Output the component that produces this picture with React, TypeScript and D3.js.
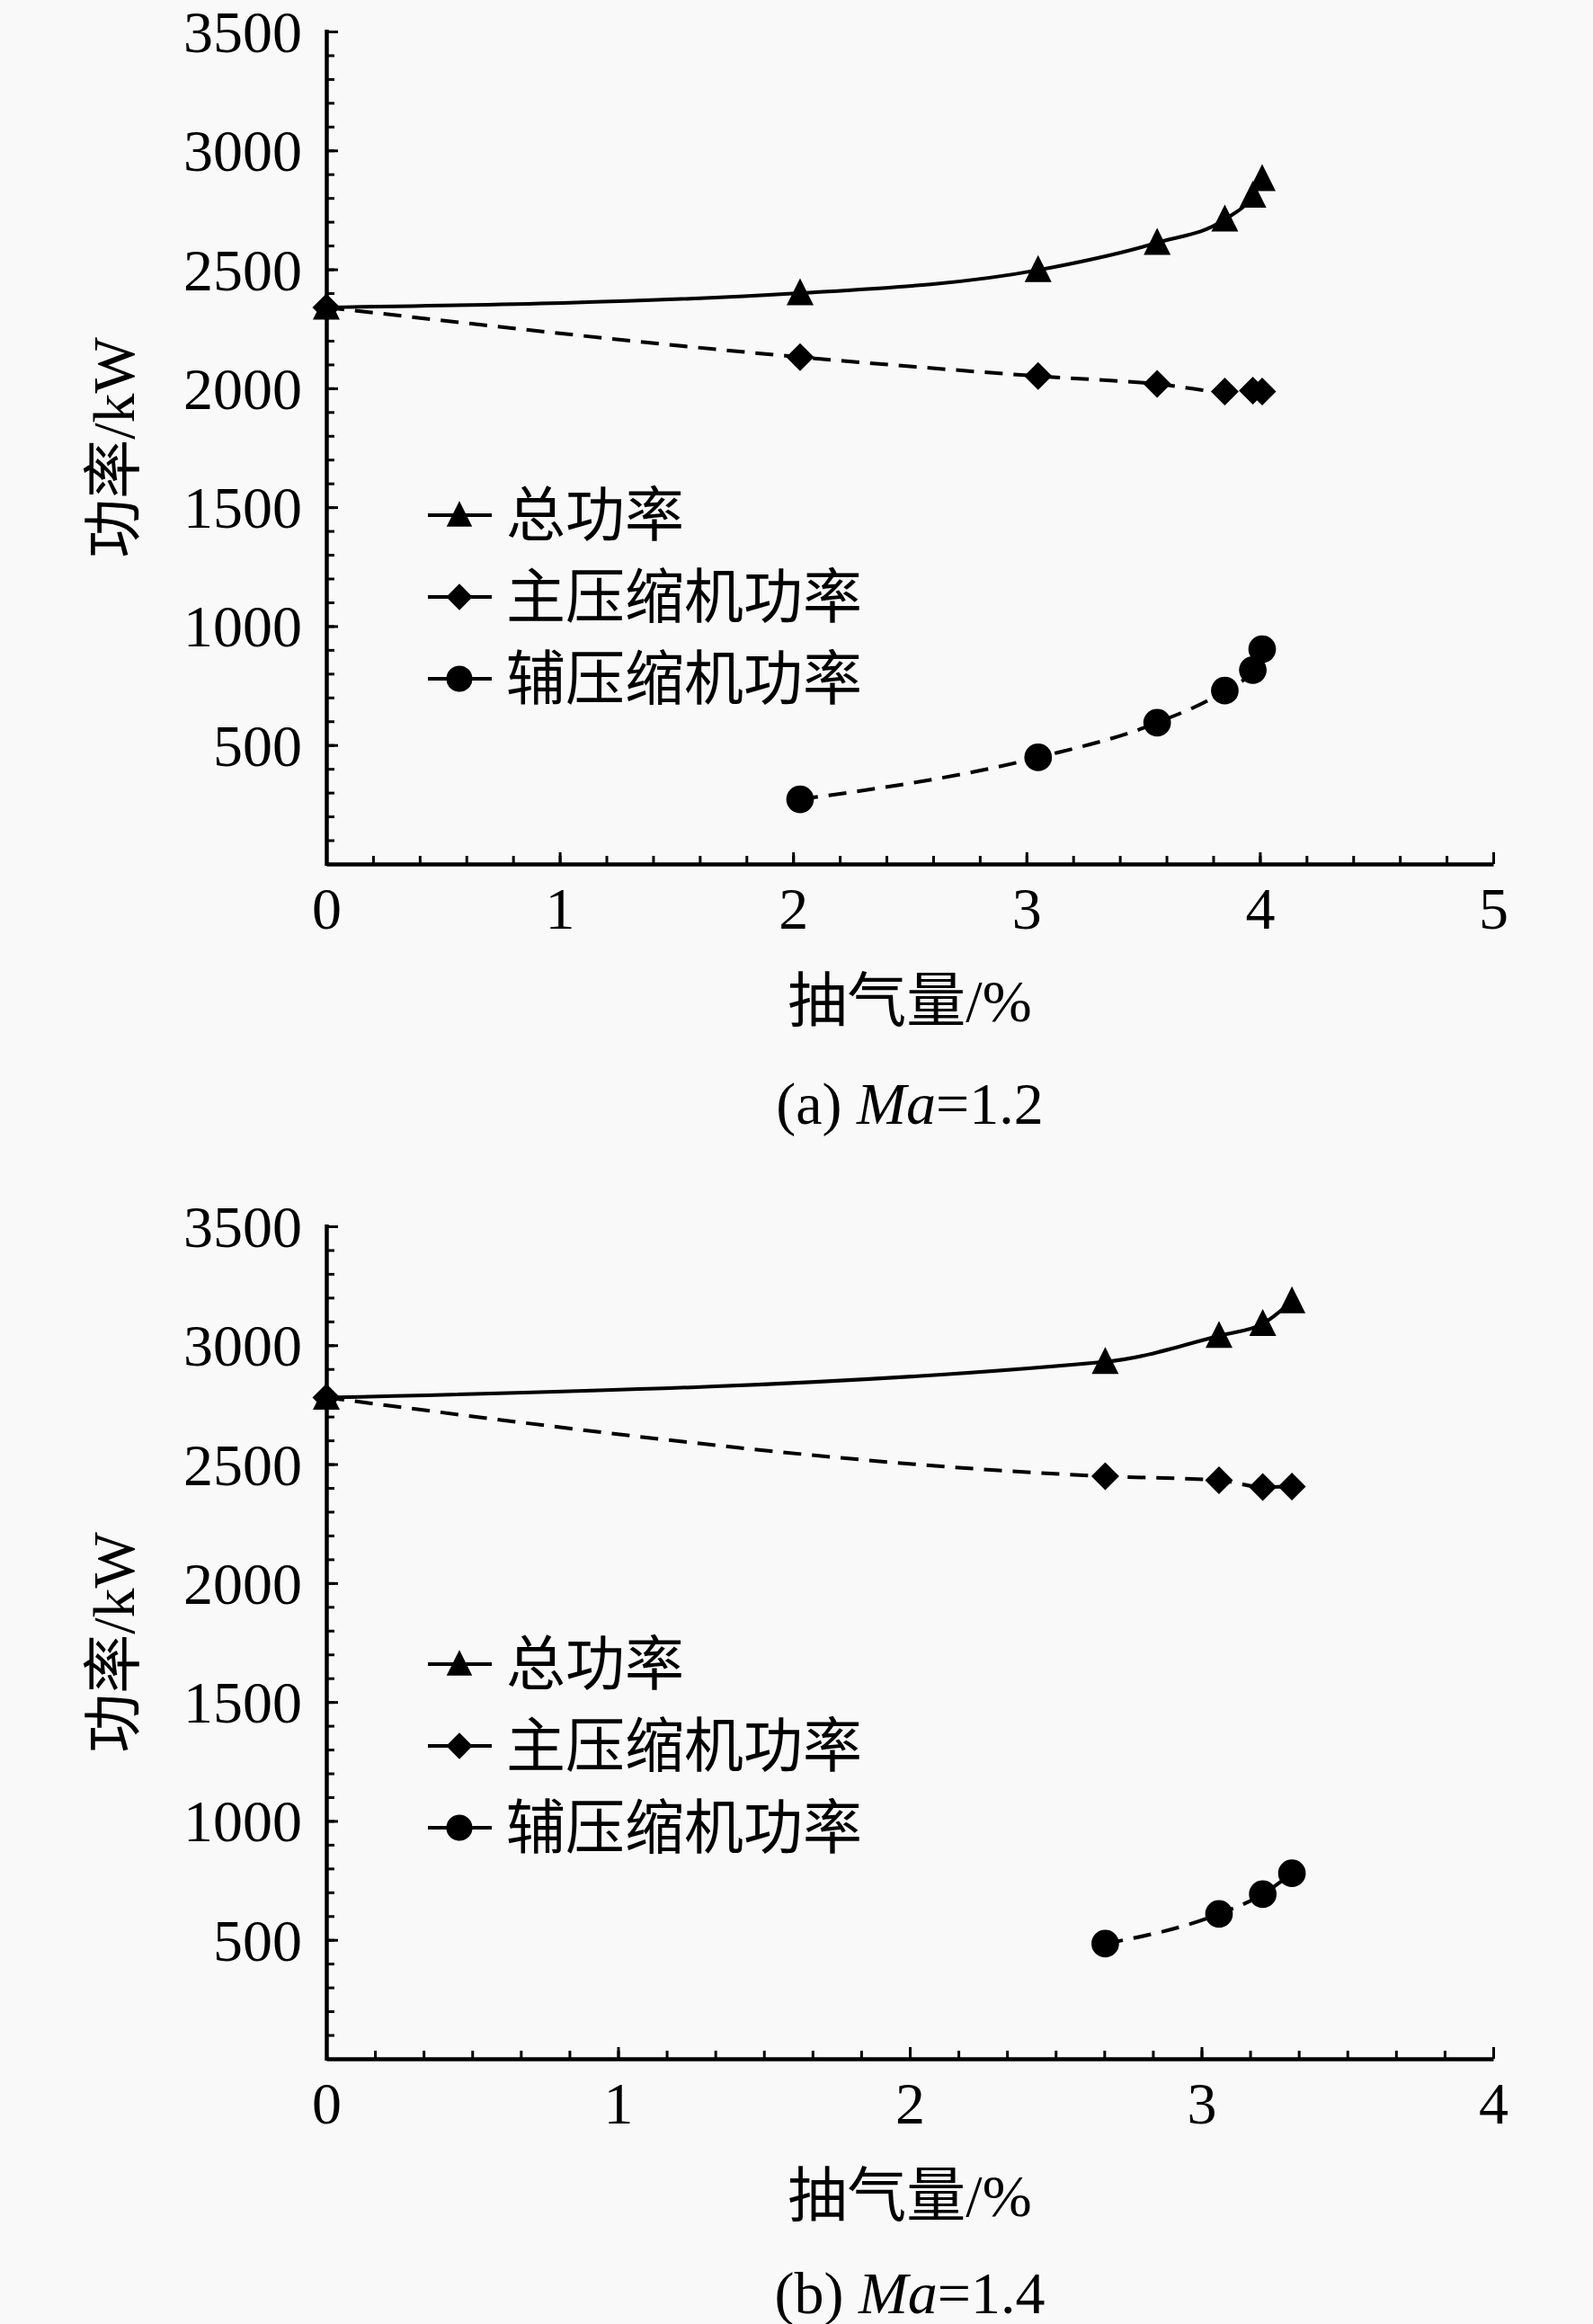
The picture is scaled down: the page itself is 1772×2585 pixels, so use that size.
import React, {useEffect, useRef} from 'react';
import * as d3 from 'd3';

// (a) Ma=1.2
const bleedA = [0, 2.03, 3.05, 3.56, 3.85, 3.97, 4.01];
const totalA = [2340, 2400, 2497, 2612, 2710, 2810, 2880];
const mainA = [2340, 2131, 2051, 2018, 1986, 1990, 1986];
const auxBleedA = [2.03, 3.05, 3.56, 3.85, 3.97, 4.01];
const auxA = [272, 448, 594, 729, 815, 903];

// (b) Ma=1.4
const bleedB = [0, 2.67, 3.06, 3.21, 3.31];
const totalB = [2780, 2930, 3040, 3090, 3185];
const mainB = [2780, 2449, 2432, 2404, 2406];
const auxBleedB = [2.67, 3.06, 3.21, 3.31];
const auxB = [484, 609, 692, 780];

const seriesNames = ['总功率', '主压缩机功率', '辅压缩机功率'];
const yTicks = [500, 1000, 1500, 2000, 2500, 3000, 3500];
const xTicksA = [0, 1, 2, 3, 4, 5];
const xTicksB = [0, 1, 2, 3, 4];
const xTitle = '抽气量/%';
const yTitle = '功率/kW';
const captionA = ['(a) ', 'Ma', '=1.2'];
const captionB = ['(b) ', 'Ma', '=1.4'];

const W = 1772;
const H = 2585;
const LATIN = '"Liberation Serif", "Times New Roman", "Noto Sans CJK SC", serif';
const FS = 66;

const panels = [
    {
        bleed: bleedA, total: totalA, main: mainA, auxBleed: auxBleedA, aux: auxA,
        xTicks: xTicksA, minorPerUnit: 5, caption: captionA,
        bottom: 961, top: 35, legendTop: 573, captionY: 1227,
    },
    {
        bleed: bleedB, total: totalB, main: mainB, auxBleed: auxBleedB, aux: auxB,
        xTicks: xTicksB, minorPerUnit: 6, caption: captionB,
        bottom: 2290, top: 1364, legendTop: 1851, captionY: 2550,
    },
];

// triangle as tall as it is wide (size = base * height)
const symbolTallTriangle = {
    draw(ctx, size) {
        const s = Math.sqrt(size);
        ctx.moveTo(0, -s * 0.55);
        ctx.lineTo(s / 2, s * 0.45);
        ctx.lineTo(-s / 2, s * 0.45);
        ctx.closePath();
    },
};

const App = () => {
    const svgRef = useRef(null);

    useEffect(() => {
        const svg = d3.select(svgRef.current);
        svg.selectAll('*').remove();
        svg.append('rect').attr('width', W).attr('height', H).attr('fill', '#f9f9f9');

        const left = 363;
        const right = 1661;

        panels.forEach((p) => {
            const g = svg.append('g');
            const xMax = p.xTicks[p.xTicks.length - 1];
            const x = d3.scaleLinear().domain([0, xMax]).range([left, right]);
            const y = d3.scaleLinear().domain([0, 3500]).range([p.bottom, p.top]);

            // minor ticks
            const xMinor = d3.range(0, xMax * p.minorPerUnit + 1).map((i) => i / p.minorPerUnit);
            const gxm = g.append('g')
                .attr('transform', `translate(0,${p.bottom})`)
                .call(d3.axisBottom(x).tickValues(xMinor).tickSizeInner(-9).tickSizeOuter(0).tickFormat(() => ''));
            gxm.select('.domain').remove();
            gxm.selectAll('line').attr('stroke', '#000').attr('stroke-width', 3);

            const gym = g.append('g')
                .attr('transform', `translate(${left},0)`)
                .call(d3.axisLeft(y).tickValues(d3.range(100, 3600, 100)).tickSizeInner(-9).tickSizeOuter(0).tickFormat(() => ''));
            gym.select('.domain').remove();
            gym.selectAll('line').attr('stroke', '#000').attr('stroke-width', 3);

            // major axes
            const gx = g.append('g')
                .attr('transform', `translate(0,${p.bottom})`)
                .call(d3.axisBottom(x).tickValues(p.xTicks).tickSizeInner(-13).tickSizeOuter(0).tickFormat(d3.format('d')));
            gx.attr('font-family', LATIN).attr('font-size', FS);
            gx.select('.domain').attr('stroke', '#000').attr('stroke-width', 4.5);
            gx.selectAll('line').attr('stroke', '#000').attr('stroke-width', 3);
            gx.selectAll('text').attr('y', 49).attr('dy', null).attr('dominant-baseline', 'central').attr('fill', '#000');

            const gy = g.append('g')
                .attr('transform', `translate(${left},0)`)
                .call(d3.axisLeft(y).tickValues(yTicks).tickSizeInner(-13).tickSizeOuter(0).tickPadding(27).tickFormat(d3.format('d')));
            gy.attr('font-family', LATIN).attr('font-size', FS);
            gy.select('.domain').attr('stroke', '#000').attr('stroke-width', 4.5).attr('d', `M0.5,${p.top - 2}V${p.bottom + 2}`);
            gy.selectAll('line').attr('stroke', '#000').attr('stroke-width', 3);
            gy.selectAll('text').attr('dy', null).attr('dominant-baseline', 'central').attr('fill', '#000');

            // titles
            g.append('text')
                .attr('x', (left + right) / 2).attr('y', p.bottom + 152)
                .attr('text-anchor', 'middle').attr('dominant-baseline', 'central')
                .attr('font-family', LATIN).attr('font-size', FS)
                .text(xTitle);
            g.append('text')
                .attr('transform', `translate(126,${(p.top + p.bottom) / 2}) rotate(-90)`)
                .attr('text-anchor', 'middle').attr('dominant-baseline', 'central')
                .attr('font-family', LATIN).attr('font-size', FS)
                .text(yTitle);
            const cap = g.append('text')
                .attr('x', (left + right) / 2).attr('y', p.captionY)
                .attr('text-anchor', 'middle').attr('dominant-baseline', 'central')
                .attr('font-family', LATIN).attr('font-size', FS);
            cap.append('tspan').text(p.caption[0]);
            cap.append('tspan').attr('font-style', 'italic').text(p.caption[1]);
            cap.append('tspan').text(p.caption[2]);

            // series
            const line = d3.line<[number, number]>()
                .x((d) => x(d[0]))
                .y((d) => y(d[1]))
                .curve(d3.curveMonotoneX);

            const totalPts = p.bleed.map((b, i) => [b, p.total[i]] as [number, number]);
            const mainPts = p.bleed.map((b, i) => [b, p.main[i]] as [number, number]);
            const auxPts = p.auxBleed.map((b, i) => [b, p.aux[i]] as [number, number]);

            const series = [
                {pts: totalPts, dash: null, symbol: symbolTallTriangle, size: 900, rot: 0},
                {pts: mainPts, dash: '20,12', symbol: d3.symbolSquare, size: 480, rot: 45},
                {pts: auxPts, dash: '20,12', symbol: d3.symbolCircle, size: 740, rot: 0},
            ];

            series.forEach((s) => {
                g.append('path')
                    .datum(s.pts)
                    .attr('d', line)
                    .attr('fill', 'none')
                    .attr('stroke', '#000')
                    .attr('stroke-width', 4)
                    .attr('stroke-dasharray', s.dash);
            });

            series.forEach((s) => {
                const sym = d3.symbol(s.symbol, s.size);
                g.append('g')
                    .selectAll('path')
                    .data(s.pts)
                    .join('path')
                    .attr('d', sym)
                    .attr('transform', (d) => `translate(${x(d[0])},${y(d[1])}) rotate(${s.rot})`)
                    .attr('fill', '#000');
            });

            // legend
            const lg = g.append('g');
            series.forEach((s, i) => {
                const ly = p.legendTop + i * 91;
                lg.append('line')
                    .attr('x1', 476).attr('x2', 547).attr('y1', ly).attr('y2', ly)
                    .attr('stroke', '#000').attr('stroke-width', 4);
                lg.append('path')
                    .attr('d', d3.symbol(s.symbol, s.size * 0.9)())
                    .attr('transform', `translate(511,${ly}) rotate(${s.rot})`)
                    .attr('fill', '#000');
                lg.append('text')
                    .attr('x', 563).attr('y', ly)
                    .attr('dominant-baseline', 'central')
                    .attr('font-family', LATIN).attr('font-size', FS)
                    .text(seriesNames[i]);
            });
        });
    }, []);

    return (
        <svg ref={svgRef} width={W} height={H} style={{position: 'absolute', left: 0, top: 0}} />
    );
};

export default App;
